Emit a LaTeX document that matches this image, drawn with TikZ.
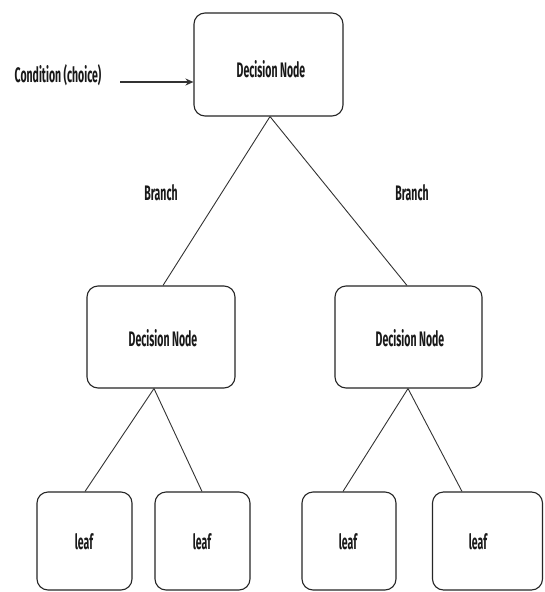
\documentclass[tikz,border=0pt]{standalone}
\usepackage{fontspec}
\setmainfont{Fira Sans}[FakeStretch=0.5]
\usetikzlibrary{arrows.meta,calc}
\tikzset{
  box/.style={draw=black!85, line width=1.1pt, rounded corners=11pt, fill=white, inner sep=0pt},
  lbl/.style={font=\fontsize{21}{24}\selectfont\bfseries, text=black!90, inner sep=0pt},
  link/.style={draw=black!80, line width=0.9pt},
}
\begin{document}
\begin{tikzpicture}[x=1pt,y=-1pt]
\useasboundingbox[fill=white] (0,0) rectangle (544,592);
% boxes
\node[box, minimum width=149pt, minimum height=103pt] (top) at (268.5,64.5) {};
\node[box, minimum width=148pt, minimum height=102pt] (ml) at (161,337) {};
\node[box, minimum width=147pt, minimum height=102pt] (mr) at (408.5,337) {};
\node[box, minimum width=95pt, minimum height=98pt] (l1) at (84.5,541) {};
\node[box, minimum width=95pt, minimum height=98pt] (l2) at (202.5,541) {};
\node[box, minimum width=94pt, minimum height=98pt] (l3) at (349,541) {};
\node[box, minimum width=110pt, minimum height=98pt] (l4) at (487.5,541) {};
% texts
\node[lbl] (ttop) at (271,69) {Decision Node};
\node[lbl] (tml) at (163,338) {Decision Node};
\node[lbl] (tmr) at (410,338) {Decision Node};
\node[lbl] (tl1) at (84,542) {leaf};
\node[lbl] (tl2) at (202,542) {leaf};
\node[lbl] (tl3) at (348,542) {leaf};
\node[lbl] (tl4) at (478,542) {leaf};
\node[lbl] (cond) at (58,75) {Condition (choice)};
\node[lbl] (b1) at (161,193) {Branch};
\node[lbl] (b2) at (412,193) {Branch};
% arrow
\coordinate (astart) at (120,82);
\draw[link, line width=1.2pt, -{Stealth[length=8pt,width=7pt]}] (astart) -- (top.west |- astart);
% connectors
\draw[link] ($(top.south)+(1.5,0)$) -- ($(ml.north)+(2,0)$);
\draw[link] ($(top.south)+(1.5,0)$) -- ($(mr.north)+(-1.5,0)$);
\draw[link] ($(ml.south)+(-7,0)$) -- ($(l1.north)+(0.5,0)$);
\draw[link] ($(ml.south)+(-7,0)$) -- ($(l2.north)+(-0.5,0)$);
\draw[link] ($(mr.south)+(-0.5,0)$) -- ($(l3.north)+(-6,0)$);
\draw[link] ($(mr.south)+(-0.5,0)$) -- ($(l4.north)+(-25.5,0)$);
\end{tikzpicture}
\end{document}
